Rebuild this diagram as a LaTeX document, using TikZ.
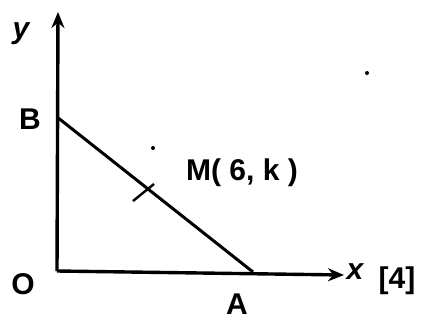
\documentclass[tikz,border=0pt]{standalone}
\usepackage{fontspec}
\setmainfont{Liberation Sans}
\usetikzlibrary{arrows.meta}
\begin{document}
\begin{tikzpicture}[x=1pt,y=-1pt,
  lbl/.style={inner sep=0pt,font=\fontsize{30}{32}\selectfont\bfseries},
  axis/.style={line width=3.4pt,-{Stealth[length=16pt,width=13pt]}},
  seg/.style={line width=3pt}]
\useasboundingbox (0,0) rectangle (433,322);
\coordinate (O) at (57,271);
\coordinate (Y) at (58,12);
\coordinate (X) at (344,275);
\coordinate (B) at (57,117);
\coordinate (A) at (253,272);
\coordinate (T1) at (133,201);
\coordinate (T2) at (154,184);
\draw[axis] (O) -- (Y);
\draw[axis] (O) -- (X);
\draw[seg] (B) -- (A);
\draw[line width=2.4pt] (T1) -- (T2);
\node[lbl] (ly) at (21,34) {\itshape y};
\node[lbl] (lB) at (30,119) {B};
\node[lbl] (lO) at (23,284) {O};
\node[lbl] (lA) at (237,304) {A};
\node[lbl] (lx) at (355,272) {\itshape x};
\node[lbl] (l4) at (397,281) {[4]};
\node[lbl] (lM) at (242,173) {M( 6, k )};
\fill (153,148) circle (2pt);
\fill (367,73) circle (2pt);
\end{tikzpicture}
\end{document}
